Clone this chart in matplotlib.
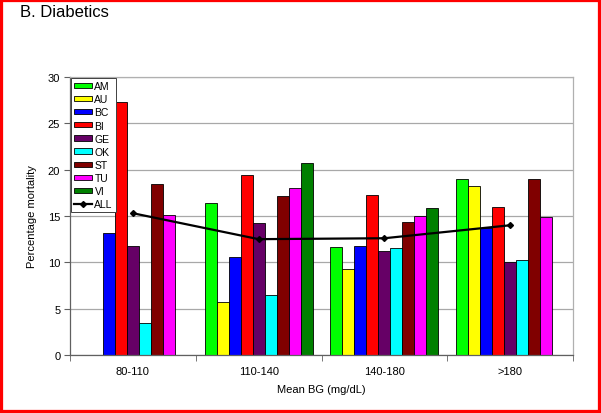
import numpy as np
import matplotlib
matplotlib.use("Agg")
import matplotlib.pyplot as plt
from matplotlib.patches import Rectangle

plt.rcParams['font.family'] = ['Liberation Sans', 'DejaVu Sans']

# --- data ---
groups = ["80-110", "110-140", "140-180", ">180"]
series = ["AM", "AU", "BC", "BI", "GE", "OK", "ST", "TU", "VI"]
nan = np.nan
AM = [nan, 16.4, 11.7, 19.0]
AU = [nan, 5.7, 9.3, 18.2]
BC = [13.2, 10.6, 11.8, 13.7]
BI = [27.3, 19.4, 17.3, 16.0]
GE = [11.8, 14.2, 11.2, 10.0]
OK = [3.4, 6.5, 11.5, 10.2]
ST = [18.5, 17.2, 14.4, 19.0]
TU = [15.1, 18.0, 15.0, 14.9]
VI = [nan, 20.7, 15.9, nan]
ALL = [15.3, 12.5, 12.6, 14.0]

values = [AM, AU, BC, BI, GE, OK, ST, TU, VI]
colors = ["#00ff00", "#ffff00", "#0000ff", "#ff0000", "#660066",
          "#00ffff", "#800000", "#ff00ff", "#008000"]

fig = plt.figure(figsize=(6.01, 4.14), dpi=100, facecolor="white")
ax = fig.add_axes([70/601, 1-356/414, 503/601, 278/414])

x = np.arange(len(groups))
w = 1/10.5
handles = []
for j, (name, vals, c) in enumerate(zip(series, values, colors)):
    b = ax.bar(x + (j - 4)*w, np.array(vals, dtype=float), width=w, color=c,
               edgecolor="black", linewidth=0.6, label=name, zorder=2)
    handles.append(b)

ln, = ax.plot(x, ALL, color="black", linewidth=1.6, marker="D", markersize=3,
              label="ALL", zorder=3)
handles.append(ln)

ax.set_xlim(-0.5, 3.5)
ax.set_ylim(0, 30)
ax.set_yticks(range(0, 31, 5))
ax.yaxis.grid(True, color="#a8a8a8", linewidth=0.9, zorder=0)
ax.set_axisbelow(True)

ax.set_xticks(x)
ax.set_xticklabels(groups)
ax.set_xticks(np.arange(-0.5, 3.6, 1), minor=True)
ax.tick_params(axis="x", which="major", length=0, pad=8, labelsize=8)
ax.tick_params(axis="x", which="minor", length=4, color="#606060")
ax.tick_params(axis="y", length=4, color="#606060", pad=3, labelsize=8)

for s in ["left", "bottom"]:
    ax.spines[s].set_color("#606060")
    ax.spines[s].set_linewidth(0.9)
for s in ["top", "right"]:
    ax.spines[s].set_color("#b0b0b0")
    ax.spines[s].set_linewidth(0.9)

ax.set_xlabel("Mean BG (mg/dL)", fontsize=8, labelpad=6)
ax.set_ylabel("Percentage mortality", fontsize=8, labelpad=8)

leg = ax.legend(handles=handles, labels=series + ["ALL"],
                loc="upper left", bbox_to_anchor=(0.0, 1.0), fontsize=7.5,
                frameon=True, fancybox=False, framealpha=1,
                edgecolor="#404040", borderpad=0.3, labelspacing=0.3,
                handlelength=1.7, handleheight=0.4, handletextpad=0.25,
                borderaxespad=0.1)
leg.get_frame().set_linewidth(0.7)

fig.text(20/601, 1-17/414, "B. Diabetics", fontsize=12, va="baseline", ha="left")

# red frame round the whole picture
fig.patches.append(Rectangle((0, 0), 1, 1, transform=fig.transFigure,
                             fill=False, edgecolor="#ff0000", linewidth=4.5))

fig.savefig("out.png", dpi=100, facecolor="white")
